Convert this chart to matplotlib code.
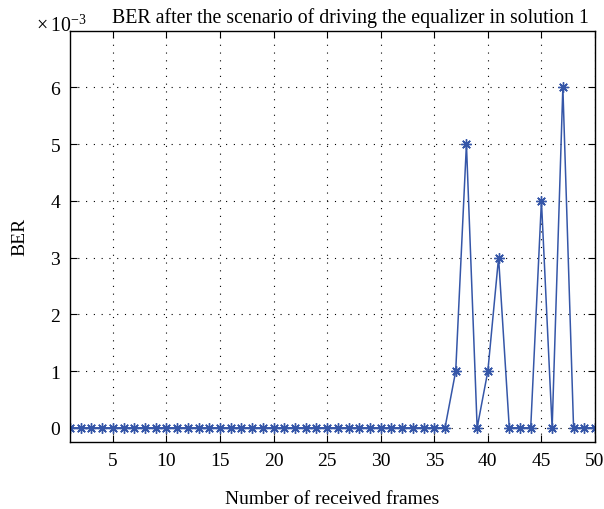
import matplotlib.pyplot as plt
import numpy as np
from matplotlib.ticker import FuncFormatter

# DATA
frames = np.arange(1, 51)
ber = np.zeros(50)
ber[36] = 0.001  # frame 37
ber[37] = 0.005
ber[39] = 0.001
ber[40] = 0.003
ber[44] = 0.004
ber[46] = 0.006

xticks = [5, 10, 15, 20, 25, 30, 35, 40, 45, 50]
yticks = [0, 0.001, 0.002, 0.003, 0.004, 0.005, 0.006]

plt.rcParams['font.family'] = ['Liberation Serif', 'DejaVu Serif']
plt.rcParams['mathtext.fontset'] = 'custom'
plt.rcParams['mathtext.rm'] = 'Liberation Serif'

fig = plt.figure(figsize=(6.04, 5.10), dpi=100)
ax = fig.add_axes([0.1159, 0.1314, 0.8692, 0.8068])

# matlab style '*' marker (8 arms)
ax.plot(frames, ber, color='#3556a8', lw=1.1, marker=(8, 2, 0), ms=7.5, mew=1.0)

ax.set_xlim(1, 50)
ax.set_ylim(-0.00025, 0.007)
ax.set_xticks(xticks)
ax.set_yticks(yticks)
ax.yaxis.set_major_formatter(FuncFormatter(lambda v, p: '%g' % round(v * 1e3, 6)))
ax.grid(True, ls=(0, (1, 6)), color='black', lw=0.8)
ax.tick_params(direction='in', top=True, right=True, labelsize=14, length=5, pad=7)
for s in ax.spines.values():
    s.set_linewidth(1.0)

ax.set_xlabel('Number of received frames', fontsize=14, labelpad=15)
ax.set_ylabel('BER', fontsize=14, labelpad=15.5)
fig.text(0.581, 1 - 23 / 510, 'BER after the scenario of driving the equalizer in solution 1',
         fontsize=14.3, ha='center', va='baseline')
fig.text(0.06, 1 - 32 / 510, r'$\times\,10^{-3}$', fontsize=14.3, va='baseline', ha='left')

fig.savefig('out.png')
